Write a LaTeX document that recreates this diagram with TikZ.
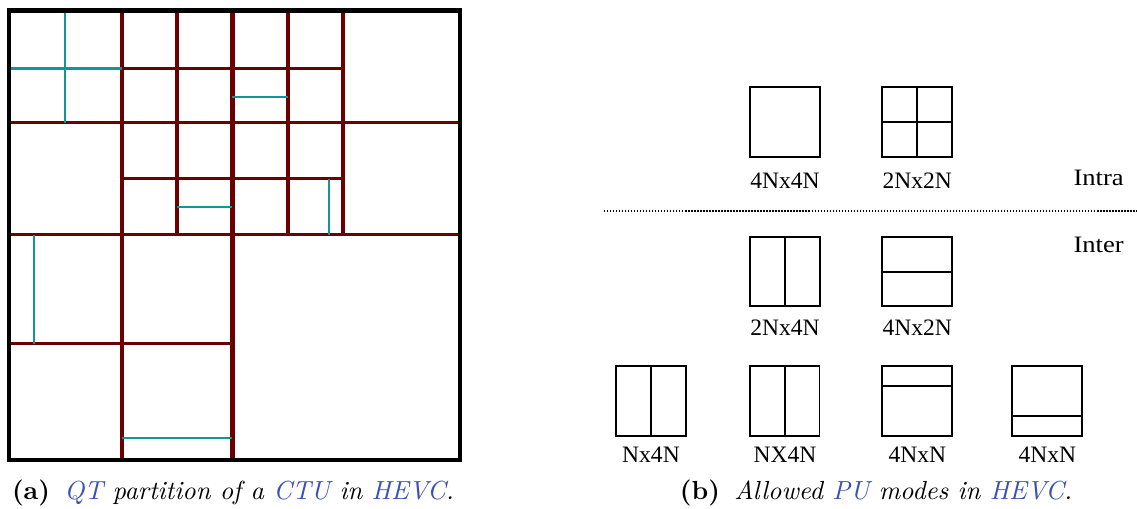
\documentclass[tikz,border=0pt]{standalone}
\usepackage{fontspec}
\usepackage{graphicx}
\newfontfamily\timesf{Liberation Serif}
\definecolor{ctured}{RGB}{108,0,0}
\definecolor{ctuteal}{RGB}{16,150,150}
\definecolor{acr}{RGB}{58,80,178}
\tikzset{
  redl/.style={draw=ctured, line width=1.15pt},
  redthick/.style={draw=ctured, line width=1.6pt},
  teall/.style={draw=ctuteal, line width=0.9pt},
  outer/.style={draw=black, line width=1.6pt},
  pubox/.style={draw=black, line width=0.75pt},
  lbl/.style={anchor=base, inner sep=0pt, font=\timesf\fontsize{9}{10}\selectfont},
  side/.style={anchor=base west, inner sep=0pt, font=\timesf\fontsize{9}{10}\selectfont},
  capt/.style={anchor=base, inner sep=0pt, font=\fontsize{10}{12}\selectfont}
}
\begin{document}
\begin{tikzpicture}[x=0.3824pt, y=-0.3824pt]
\useasboundingbox (0,0) rectangle (1137,509);
% ---------- (a) QT partition ----------
% red CU boundaries
\draw[redl] (122,10) -- (122,460);
\draw[redl] (177,10) -- (177,235);
\draw[redl] (288,10) -- (288,235);
\draw[redl] (122,68.5) -- (343,68.5);
\draw[redl] (9,123) -- (460,123);
\draw[redl] (122,179) -- (343,179);
\draw[redl] (9,235) -- (460,235);
\draw[redl] (9,344) -- (232,344);
\draw[redthick] (232.5,10) -- (232.5,460);
\draw[redthick] (343,10) -- (343,235);
% teal PU boundaries
\draw[teall] (65,10) -- (65,123);
\draw[teall] (9,68.5) -- (122,68.5);
\draw[teall] (232,96.7) -- (288,96.7);
\draw[teall] (177,207.3) -- (232,207.3);
\draw[teall] (329.3,179) -- (329.3,235);
\draw[teall] (34.3,235) -- (34.3,344);
\draw[teall] (122,438.3) -- (232,438.3);
% CTU border
\draw[outer] (9,10.5) rectangle (460,460);
\node[capt] (capa) at (233,500) {\textbf{(a)}\hspace{0.55em}\textit{\textcolor{acr}{QT} partition of a \textcolor{acr}{CTU} in \textcolor{acr}{HEVC}.}};
% ---------- (b) PU modes ----------
% Intra row
\draw[pubox] (750,87.3) rectangle (820,157.3);
\draw[pubox] (882.3,87.3) rectangle (952.3,157.3);
\draw[pubox] (917.3,87.3) -- (917.3,157.3);
\draw[pubox] (882.3,122.3) -- (952.3,122.3);
\node[lbl] (l4n4n) at (785,189) {4Nx4N};
\node[lbl] (l2n2n) at (917.3,189) {2Nx2N};
\node[side] (intra) at (1073,186) {\scalebox{1.13}[1]{Intra}};
\draw[line width=0.75pt, dash pattern=on 0.5pt off 0.65pt] (604,210.7) -- (1137,210.7);
\node[side] (inter) at (1073,252.7) {\scalebox{1.13}[1]{Inter}};
% Inter row 1
\draw[pubox] (750,236.7) rectangle (820,306);
\draw[pubox] (785,236.7) -- (785,306);
\draw[pubox] (882.3,236.7) rectangle (952.3,306);
\draw[pubox] (882.3,272) -- (952.3,272);
\node[lbl] (l2n4n) at (785,336) {2Nx4N};
\node[lbl] (l4n2n) at (917.3,336) {4Nx2N};
% Inter row 2 (AMP)
\draw[pubox] (616,365.7) rectangle (686,435.7);
\draw[pubox] (650.7,365.7) -- (650.7,435.7);
\draw[pubox] (750,365.7) rectangle (819.5,435.7);
\draw[pubox] (785,365.7) -- (785,435.7);
\draw[pubox] (882.3,365.7) rectangle (952.3,435.7);
\draw[pubox] (882.3,385.7) -- (952.3,385.7);
\draw[pubox] (1012.3,365.7) rectangle (1082.3,435.7);
\draw[pubox] (1012.3,416) -- (1082.3,416);
\node[lbl] (lnx4n) at (651,463) {Nx4N};
\node[lbl] (lNX4N) at (785,463) {NX4N};
\node[lbl] (l4nxn) at (917.3,463) {4NxN};
\node[lbl] (l4nxnb) at (1047.3,463) {4NxN};
\node[capt] (capb) at (876,500) {\textbf{(b)}\hspace{0.55em}\textit{Allowed \textcolor{acr}{PU} modes in \textcolor{acr}{HEVC}.}};
\end{tikzpicture}
\end{document}
